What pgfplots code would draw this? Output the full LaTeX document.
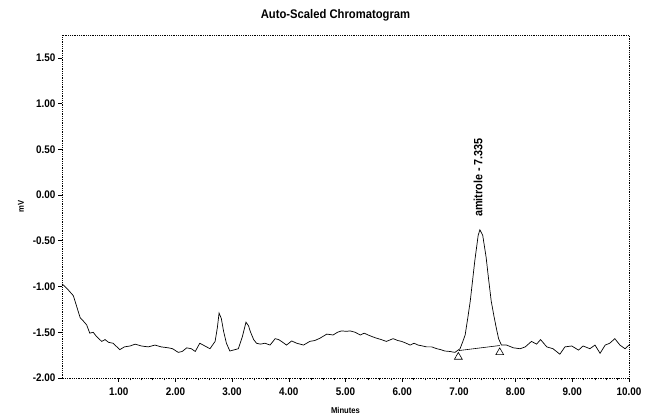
\documentclass[border=0pt]{standalone}
\usepackage{fontspec}
\setmainfont{Liberation Sans}
\newfontfamily\condb{Liberation Sans}[FakeStretch=0.9]
\usepackage{pgfplots}
\pgfplotsset{compat=1.18}
\usepackage{pgfplotstable}
\pgfplotstableread{
t v
0.00 -0.97
0.10 -1.03
0.20 -1.10
0.26 -1.22
0.32 -1.34
0.38 -1.38
0.435 -1.42
0.49 -1.51
0.55 -1.50
0.60 -1.54
0.70 -1.60
0.76 -1.58
0.82 -1.61
0.90 -1.62
1.02 -1.69
1.10 -1.66
1.20 -1.65
1.29 -1.63
1.40 -1.65
1.52 -1.66
1.64 -1.64
1.75 -1.66
1.875 -1.67
1.95 -1.68
2.05 -1.72
2.12 -1.71
2.20 -1.67
2.28 -1.68
2.35 -1.71
2.43 -1.62
2.52 -1.65
2.61 -1.68
2.70 -1.60
2.74 -1.45
2.77 -1.29
2.81 -1.35
2.85 -1.49
2.90 -1.62
2.96 -1.705
3.05 -1.69
3.11 -1.68
3.18 -1.55
3.245 -1.39
3.29 -1.43
3.32 -1.49
3.38 -1.58
3.43 -1.62
3.50 -1.63
3.58 -1.62
3.67 -1.64
3.76 -1.57
3.82 -1.58
3.87 -1.60
3.96 -1.64
4.05 -1.595
4.14 -1.62
4.26 -1.64
4.37 -1.60
4.46 -1.59
4.55 -1.565
4.67 -1.52
4.78 -1.53
4.86 -1.50
4.93 -1.485
5.02 -1.49
5.08 -1.485
5.17 -1.50
5.26 -1.53
5.33 -1.51
5.40 -1.53
5.48 -1.55
5.55 -1.565
5.63 -1.58
5.72 -1.60
5.84 -1.57
5.92 -1.59
5.99 -1.60
6.07 -1.62
6.14 -1.64
6.21 -1.62
6.28 -1.64
6.36 -1.65
6.43 -1.66
6.52 -1.66
6.61 -1.68
6.68 -1.69
6.75 -1.705
6.84 -1.71
6.93 -1.72
7.02 -1.68
7.07 -1.60
7.11 -1.53
7.16 -1.33
7.20 -1.16
7.24 -0.94
7.28 -0.72
7.34 -0.44
7.37 -0.38
7.42 -0.44
7.48 -0.68
7.52 -0.90
7.57 -1.16
7.62 -1.33
7.66 -1.455
7.70 -1.57
7.75 -1.64
7.84 -1.64
7.96 -1.67
8.08 -1.68
8.17 -1.66
8.28 -1.60
8.37 -1.63
8.44 -1.58
8.55 -1.66
8.66 -1.68
8.78 -1.74
8.87 -1.66
8.99 -1.65
9.11 -1.695
9.19 -1.65
9.31 -1.68
9.40 -1.64
9.49 -1.73
9.58 -1.64
9.66 -1.62
9.75 -1.57
9.84 -1.64
9.93 -1.68
10.00 -1.64
}\chrom
\begin{document}
\begin{tikzpicture}
\begin{axis}[
  name=ax,
  scale only axis,
  width=567pt, height=343pt,
  xmin=0, xmax=10, ymin=-2, ymax=1.75,
  xtick={1,2,3,4,5,6,7,8,9,10},
  ytick={-2,-1.5,-1,-0.5,0,0.5,1,1.5},
  minor x tick num=4,
  minor y tick num=0,
  xtick pos=bottom, ytick pos=left,
  tick align=outside,
  major tick length=4pt,
  minor tick length=2.5pt,
  tick style={black, line width=0.6pt, solid},
  axis line style={black, densely dotted, line width=0.8pt},
  /pgf/number format/assume math mode=true,
  /pgf/number format/.cd, fixed, fixed zerofill, precision=2,
  /pgfplots/.cd,
  ticklabel style={font=\condb\bfseries\fontsize{11}{11}\selectfont},
  xticklabel style={yshift=-2pt},
  yticklabel style={xshift=1pt},
  clip=false,
]
\addplot[black, line width=0.7pt] table[x=t, y=v] {\chrom};
\addplot[black, line width=0.6pt] coordinates {(7.00,-1.70) (7.72,-1.645)};
\addplot[only marks, mark=triangle, mark size=4.5pt, mark options={black, line width=0.6pt, fill=white}] coordinates {(6.99,-1.77) (7.72,-1.72)};
\node[rotate=90, anchor=west, inner sep=0pt, font=\condb\bfseries\fontsize{12}{12}\selectfont] at (axis cs:7.34,-0.24) {amitrole - 7.335};
\end{axis}
\node[font=\condb\bfseries\fontsize{12.5}{12.5}\selectfont] at ([xshift=-10pt,yshift=20pt]ax.north) {Auto-Scaled Chromatogram};
\node[font=\condb\bfseries\fontsize{8.5}{8.5}\selectfont] at ([yshift=-32pt]ax.south) {Minutes};
\node[rotate=90, font=\condb\bfseries\fontsize{8.5}{8.5}\selectfont] at ([xshift=-41pt]ax.west) {mV};
\path ([xshift=-62pt,yshift=-37pt]ax.south west) rectangle ([xshift=18pt,yshift=35pt]ax.north east);
\end{tikzpicture}
\end{document}
